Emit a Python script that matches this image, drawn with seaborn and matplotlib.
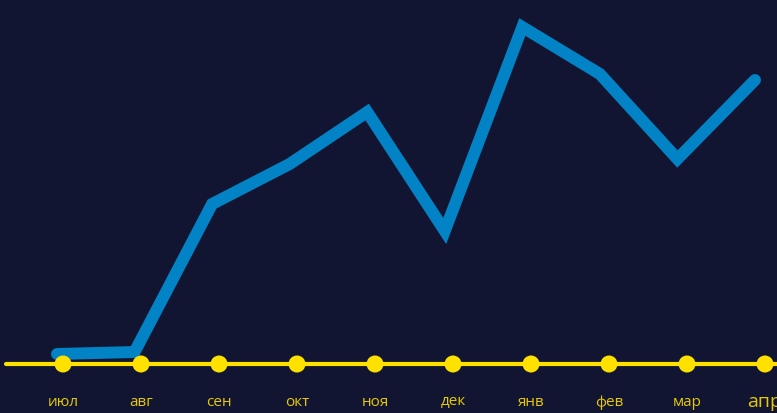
import numpy as np
import pandas as pd
import matplotlib
matplotlib.use("Agg")
import matplotlib.pyplot as plt
import seaborn as sns

# данные
months = ["июл", "авг", "сен", "окт", "ноя", "дек", "янв", "фев", "мар", "апр"]
values = [10, 12, 160, 200, 252, 133, 337, 290, 205, 284]

BG = "#111532"
BLUE = "#0283C6"
YELLOW = "#FFE100"
LABEL = "#E8C900"

sns.set_theme(style="white")
plt.rcParams["font.family"] = ["Open Sans", "DejaVu Sans"]

df = pd.DataFrame({"idx": np.arange(len(months)), "month": months, "value": values})

fig = plt.figure(figsize=(7.77, 4.13), dpi=100, facecolor=BG)
ax = fig.add_axes([0, 0, 1, 1])
ax.set_facecolor(BG)

# синяя линия
sns.lineplot(data=df, x="idx", y="value", ax=ax, color=BLUE, linewidth=8.6,
             solid_capstyle="round", solid_joinstyle="miter", zorder=2)
ax.set_xlim(-0.735, 9.284)
ax.set_ylim(-49, 364)
ax.axis("off")

# ось с точками и подписями
ax2 = ax.twiny()
ax2.set_xlim(-0.808, 9.154)
ax2.set_ylim(-49, 364)
ax2.axis("off")
ax2.axhline(0, xmin=6 / 777, xmax=1, color=YELLOW, linewidth=3, zorder=3)
sns.scatterplot(data=df, x="idx", y=np.zeros(len(months)), ax=ax2, color=YELLOW,
                s=150, edgecolor="none", zorder=4)
for i, m in enumerate(months):
    size = 14 if m == "апр" else 11
    ax2.text(i, -38, m, color=LABEL, fontsize=size, ha="center", va="center")

fig.savefig("out.png", dpi=100, facecolor=BG)
